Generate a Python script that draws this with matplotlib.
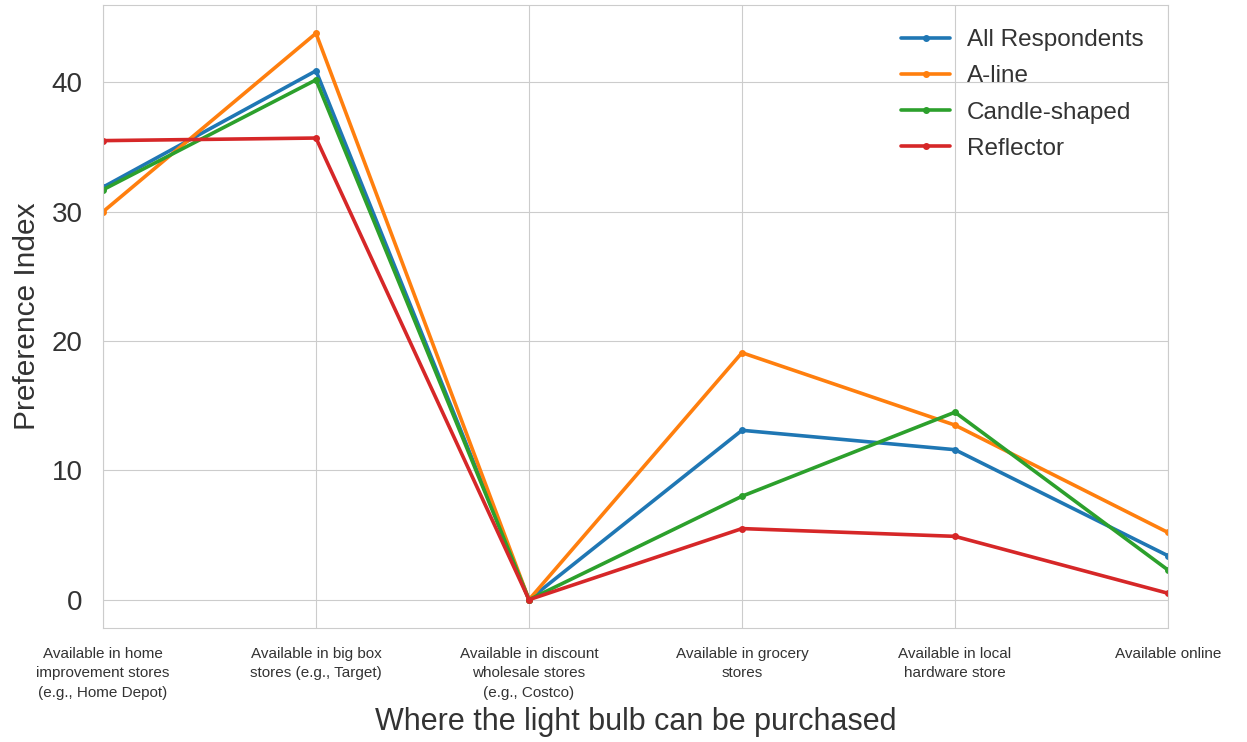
import matplotlib
matplotlib.use('Agg')
import matplotlib.pyplot as plt
import seaborn as sns

categories = ['Available in home\nimprovement stores\n(e.g., Home Depot)',
              'Available in big box\nstores (e.g., Target)',
              'Available in discount\nwholesale stores\n(e.g., Costco)',
              'Available in grocery\nstores',
              'Available in local\nhardware store',
              'Available online']
all_resp = [31.9, 40.9, 0.0, 13.1, 11.6, 3.4]
a_line = [30.0, 43.8, 0.0, 19.1, 13.5, 5.2]
candle = [31.7, 40.2, 0.0, 8.0, 14.5, 2.3]
reflector = [35.5, 35.7, 0.0, 5.5, 4.9, 0.5]

series = [('All Respondents', all_resp, '#1f77b4'),
          ('A-line', a_line, '#ff7f0e'),
          ('Candle-shaped', candle, '#2ca02c'),
          ('Reflector', reflector, '#d62728')]

sns.set_style('whitegrid')
plt.rcParams['font.family'] = ['Liberation Sans', 'DejaVu Sans']

fig = plt.figure(figsize=(12.47, 7.42), dpi=100)
ax = fig.add_axes([0.0826, 0.1536, 0.854, 0.8397])

x = list(range(len(categories)))
for name, vals, col in series:
    ax.plot(x, vals, color=col, lw=2.6, marker='o', ms=4, label=name)

ax.set_xlim(0, len(categories) - 1)
ax.set_xticks(x)
ax.set_xticklabels(categories, fontsize=11, color='#333333', linespacing=1.5)
ax.set_yticks([0, 10, 20, 30, 40])
ax.tick_params(axis='y', labelsize=20, colors='#333333', pad=11)
ax.tick_params(axis='x', pad=10)
ax.set_xlabel('Where the light bulb can be purchased', fontsize=22, color='#333333', labelpad=5)
ax.set_ylabel('Preference Index', fontsize=21.5, color='#333333', labelpad=8)
for s in ax.spines.values():
    s.set_color('#cccccc')

leg = ax.legend(loc='upper right', frameon=False, fontsize=17.5, handlelength=2.0,
                labelspacing=0.58, borderaxespad=0.6, handletextpad=0.7)
for t in leg.get_texts():
    t.set_color('#333333')

fig.savefig('out.png', dpi=100)
